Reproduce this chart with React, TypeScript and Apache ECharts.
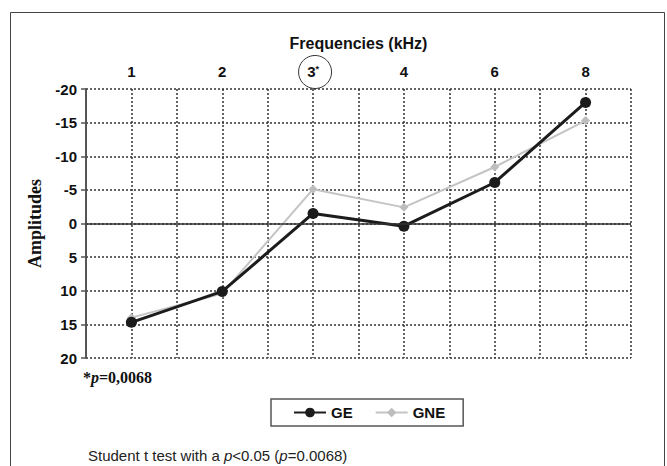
import React, { useEffect, useRef } from "react";
import * as echarts from "echarts";

const categories = ["1", "2", "3", "4", "6", "8"];
const geValues = [14.7, 10.1, -1.5, 0.4, -6.1, -18.0];
const gneValues = [14.0, 10.4, -5.1, -2.4, -8.4, -15.3];
const yMin = -20;
const yMax = 20;
const yStep = 5;
const starredCategory = "3";

const SANS = "Liberation Sans, Arial, sans-serif";
const SERIF = "Liberation Serif, Times New Roman, serif";

export default function App() {
  const ref = useRef<HTMLDivElement>(null);

  useEffect(() => {
    if (!ref.current) return;
    const chart = echarts.init(ref.current, null, { renderer: "svg" });
    const gridLine = { show: true, lineStyle: { color: "#333", width: 1.5, type: [2, 2] as any } };

    chart.setOption({
      animation: false,
      backgroundColor: "#ffffff",
      grid: { left: 86, top: 89, width: 545, height: 269, containLabel: false },
      legend: {
        left: 271,
        top: 399,
        orient: "horizontal",
        borderColor: "#555",
        borderWidth: 1.5,
        padding: [6, 18, 6, 22],
        itemGap: 22,
        itemWidth: 32,
        itemHeight: 12,
        textStyle: { fontFamily: SANS, fontWeight: "bold", fontSize: 15, color: "#111" },
        data: ["GE", "GNE"],
      },
      xAxis: [
        {
          type: "category",
          position: "top",
          data: categories,
          name: "Frequencies (kHz)",
          nameLocation: "middle",
          nameGap: 38,
          nameTextStyle: { fontFamily: SANS, fontWeight: "bold", fontSize: 16, color: "#111" },
          axisLine: { show: false },
          axisTick: { show: false },
          splitLine: { show: false },
          axisLabel: {
            margin: 10,
            fontFamily: SANS,
            fontWeight: "bold",
            fontSize: 15,
            color: "#111",
            formatter: (v: string) => (v === starredCategory ? `{n|${v}}{s|*}` : `{n|${v}}`),
            rich: {
              n: { fontFamily: SANS, fontWeight: "bold", fontSize: 15, color: "#111" },
              s: { fontFamily: SANS, fontWeight: "bold", fontSize: 9, color: "#111", verticalAlign: "top", padding: [0, 0, 6, 0] },
            },
          },
        },
        {
          type: "value",
          position: "bottom",
          min: 0,
          max: 12,
          interval: 1,
          axisLine: { show: false },
          axisTick: { show: false },
          axisLabel: { show: false },
          splitLine: gridLine,
        },
      ],
      yAxis: {
        type: "value",
        inverse: true,
        min: yMin,
        max: yMax,
        interval: yStep,
        name: "Amplitudes",
        nameLocation: "middle",
        nameGap: 32,
        nameRotate: 90,
        nameTextStyle: { fontFamily: SERIF, fontWeight: "bold", fontSize: 18, color: "#111" },
        axisLine: { show: true, onZero: false, lineStyle: { color: "#555", width: 2 } },
        axisTick: { show: true, length: 5, lineStyle: { color: "#555", width: 1.5 } },
        axisLabel: { margin: 9, fontFamily: SANS, fontWeight: "bold", fontSize: 15, color: "#111" },
        splitLine: gridLine,
      },
      series: [
        {
          name: "GNE",
          type: "line",
          xAxisIndex: 0,
          data: gneValues,
          symbol: "diamond",
          symbolSize: 9,
          itemStyle: { color: "#bdbdbd" },
          lineStyle: { color: "#c4c4c4", width: 2 },
          z: 3,
        },
        {
          name: "GE",
          type: "line",
          xAxisIndex: 0,
          data: geValues,
          symbol: "circle",
          symbolSize: 11,
          itemStyle: { color: "#1c1c1c" },
          lineStyle: { color: "#1c1c1c", width: 3 },
          z: 4,
          markLine: {
            silent: true,
            symbol: "none",
            label: { show: false },
            lineStyle: { color: "#333", width: 1.5, type: "solid" },
            data: [{ yAxis: 0 }],
          },
        },
      ],
    });

    const cx = chart.convertToPixel({ xAxisIndex: 0 }, starredCategory) as number;
    const topY = chart.convertToPixel({ yAxisIndex: 0 }, yMin) as number;

    chart.setOption({
      graphic: [
        {
          type: "rect",
          id: "frame",
          silent: true,
          z: -10,
          shape: { x: 10.5, y: 12.5, width: 654, height: 470 },
          style: { fill: "none", stroke: "#444", lineWidth: 1 },
        },
        {
          type: "circle",
          id: "ring",
          silent: true,
          shape: { cx: cx + 2, cy: topY - 17, r: 16.5 },
          style: { fill: "none", stroke: "#333", lineWidth: 1 },
        },
        {
          type: "text",
          id: "pnote",
          left: 83,
          top: 369,
          style: {
            text: "{b|*}{i|p}{b|=0,0068}",
            rich: {
              b: { fontFamily: SERIF, fontWeight: "bold", fontSize: 16, fill: "#111" },
              i: { fontFamily: SERIF, fontWeight: "bold", fontStyle: "italic", fontSize: 16, fill: "#111" },
            },
          },
        },
        {
          type: "text",
          id: "student",
          left: 88,
          top: 448,
          style: {
            text: "{n|Student t test with a }{i|p}{n|<0.05 (}{i|p}{n|=0.0068)}",
            rich: {
              n: { fontFamily: SANS, fontSize: 15, fill: "#222" },
              i: { fontFamily: SANS, fontStyle: "italic", fontSize: 15, fill: "#222" },
            },
          },
        },
      ],
    });

    return () => chart.dispose();
  }, []);

  return (
    <div
      ref={ref}
      style={{ position: "fixed", left: 0, top: 0, width: 667, height: 466, background: "#fff" }}
    />
  );
}
